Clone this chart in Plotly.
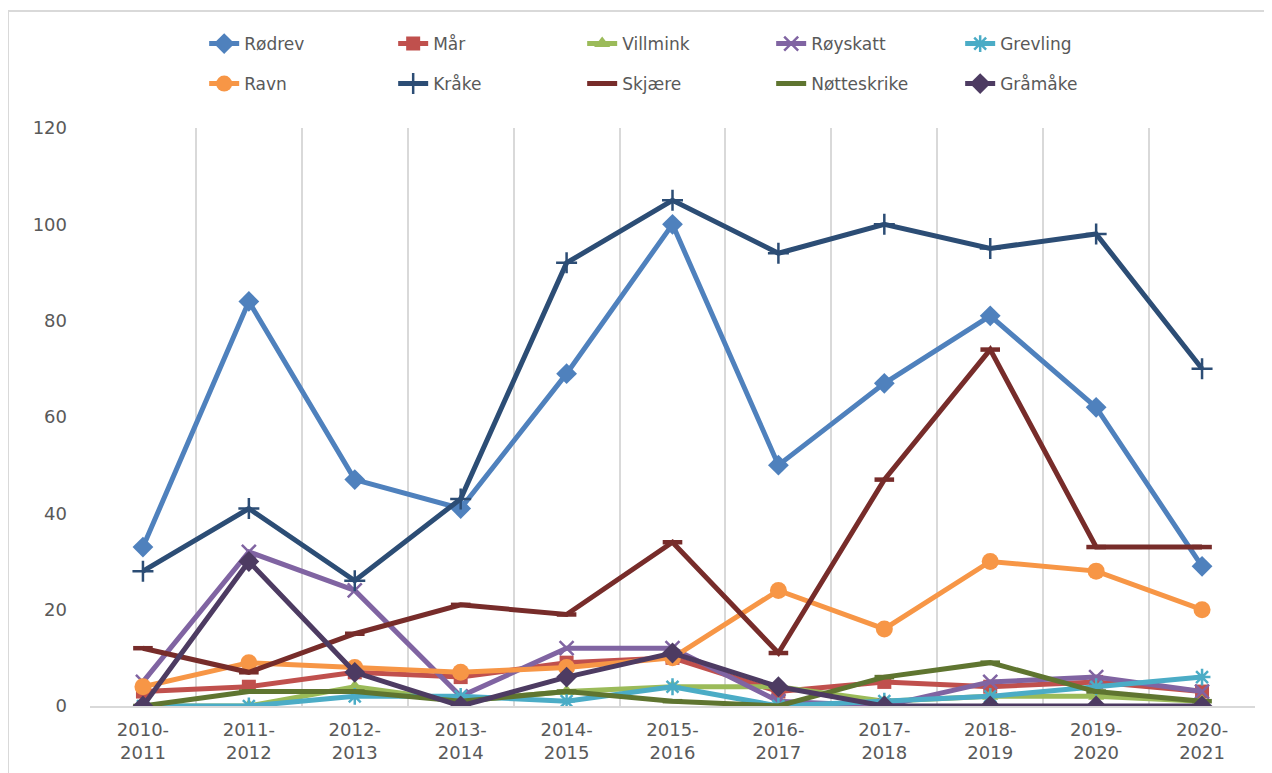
import plotly.graph_objects as go

seasons = ["2010-<br>2011", "2011-<br>2012", "2012-<br>2013", "2013-<br>2014", "2014-<br>2015",
           "2015-<br>2016", "2016-<br>2017", "2017-<br>2018", "2018-<br>2019", "2019-<br>2020",
           "2020-<br>2021"]

rodrev = [33, 84, 47, 41, 69, 100, 50, 67, 81, 62, 29]
maar = [3, 4, 7, 6, 9, 10, 3, 5, 4, 5, 3]
villmink = [0, 0, 4, 1, 3, 4, 4, 1, 2, 2, 1]
royskatt = [5, 32, 24, 2, 12, 12, 1, 0, 5, 6, 3]
grevling = [0, 0, 2, 2, 1, 4, 0, 1, 2, 4, 6]
ravn = [4, 9, 8, 7, 8, 10, 24, 16, 30, 28, 20]
kraake = [28, 41, 26, 43, 92, 105, 94, 100, 95, 98, 70]
skjaere = [12, 7, 15, 21, 19, 34, 11, 47, 74, 33, 33]
notteskrike = [0, 3, 3, 1, 3, 1, 0, 6, 9, 3, 1]
graamaake = [0, 30, 7, 0, 6, 11, 4, 0, 0, 0, 0]

series = [
    ("Rødrev", rodrev, "#4F81BD", "diamond", 16, 0, "legend"),
    ("Mår", maar, "#C0504D", "square", 14, 0, "legend"),
    ("Villmink", villmink, "#9BBB59", "triangle-up", 14, 0, "legend"),
    ("Røyskatt", royskatt, "#8064A2", "x-thin-open", 14, 2.5, "legend"),
    ("Grevling", grevling, "#4BACC6", "asterisk-open", 14, 2.5, "legend"),
    ("Ravn", ravn, "#F79646", "circle", 17, 0, "legend2"),
    ("Kråke", kraake, "#2C4D75", "cross-thin-open", 15, 2.5, "legend2"),
    ("Skjære", skjaere, "#772C2A", "line-ew-open", 14, 4.5, "legend2"),
    ("Nøtteskrike", notteskrike, "#5F7530", "line-ew-open", 14, 4.5, "legend2"),
    ("Gråmåke", graamaake, "#4D3B62", "diamond", 16, 0, "legend2"),
]

fig = go.Figure()
for name, vals, color, sym, size, lw, leg in series:
    fig.add_trace(go.Scatter(
        x=seasons, y=vals, name=name, mode="lines+markers",
        line=dict(color=color, width=5),
        marker=dict(symbol=sym, size=size, color=color,
                    line=dict(color=color, width=lw)),
        legend=leg,
    ))

font_main = "DejaVu Sans, Liberation Sans, sans-serif"
leg_common = dict(orientation="h", xanchor="left", yanchor="middle",
                  font=dict(family=font_main, size=17, color="#595959"),
                  entrywidth=144, entrywidthmode="pixels",
                  bgcolor="rgba(0,0,0,0)", itemwidth=30)

fig.update_layout(
    width=1272, height=773,
    margin=dict(l=82, r=25, t=120, b=75),
    paper_bgcolor="white", plot_bgcolor="white",
    font=dict(family=font_main, size=18, color="#595959"),
    legend=dict(x=0.098, y=1.1453, **leg_common),
    legend2=dict(x=0.098, y=1.0761, **leg_common),
    xaxis=dict(
        type="category", range=[-0.5, 10.5], tickson="boundaries",
        showgrid=True, gridcolor="#D9D9D9", gridwidth=2,
        showline=True, linecolor="#D9D9D9", linewidth=2,
        ticks="", ticklabelstandoff=6,
        tickfont=dict(family=font_main, size=18, color="#595959"),
        zeroline=False,
    ),
    yaxis=dict(
        range=[0, 120], tickvals=[0, 20, 40, 60, 80, 100, 120],
        showgrid=False, zeroline=False, showline=False,
        ticks="", ticklabelstandoff=22,
        tickfont=dict(family=font_main, size=18, color="#595959"),
    ),
    shapes=[
        dict(type="line", xref="paper", yref="paper", x0=-0.0704, x1=1.05,
             y0=1.2024, y1=1.2024, line=dict(color="#D9D9D9", width=2)),
        dict(type="line", xref="paper", yref="paper", x0=-0.0704, x1=-0.0704,
             y0=1.2024, y1=-0.2, line=dict(color="#D9D9D9", width=2)),
    ],
)

fig.write_html("out.html")
